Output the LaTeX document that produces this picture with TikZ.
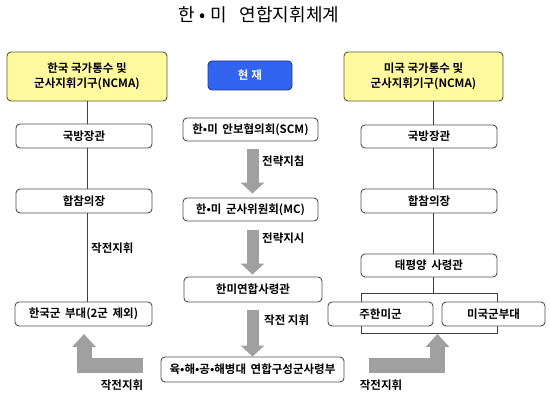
\documentclass[tikz,border=0pt]{standalone}
\usepackage{fontspec}
\setmainfont{Noto Sans CJK KR}[BoldFont={Noto Sans CJK KR Bold}]
\usetikzlibrary{arrows.meta,calc}
\definecolor{ylw}{HTML}{FFFA9E}
\definecolor{ylwline}{HTML}{5A5A3A}
\definecolor{blu}{HTML}{3264F0}
\definecolor{bluline}{HTML}{1F3A8A}
\definecolor{boxline}{HTML}{505050}
\definecolor{arrgray}{HTML}{A0A0A0}
\tikzset{
  base/.style={rounded corners=4pt, line width=0.9pt, inner sep=0pt, align=center,
    font=\fontsize{11.5}{14.5}\selectfont\bfseries},
  whitebox/.style={base, draw=boxline, fill=white},
  yellowbox/.style={base, draw=ylwline, fill=ylw, minimum width=160pt, minimum height=49pt},
  bluebox/.style={base, draw=bluline, fill=blu, text=white},
  conn/.style={draw=black!75, line width=0.8pt},
  lbl/.style={font=\fontsize{11.5}{13}\selectfont\bfseries, inner sep=0pt},
  fatarrow/.style={draw=arrgray, line width=12pt, line cap=butt,
    -{Triangle[width=23pt,length=11pt]}},
  bentarrow/.style={draw=arrgray, line width=15pt, line cap=butt, line join=miter,
    -{Triangle[width=23pt,length=13pt]}}
}
\begin{document}
\begin{tikzpicture}[x=1pt,y=-1pt]
\useasboundingbox (0,0) rectangle (550,404);
% title
\node[inner sep=0pt, font=\fontsize{18}{20}\selectfont] (title) at (259,15)
  {한\makebox[15pt]{•}미\hspace{13pt}연합지휘체계};
% top boxes
\node[yellowbox] (ky) at (87,76.5) {한국 국가통수 및\\군사지휘기구(NCMA)};
\node[bluebox, minimum width=84pt, minimum height=29pt] (now) at (250,75.5) {현\hspace{3pt}재};
\node[yellowbox, minimum width=159pt] (uy) at (423.5,76.5) {미국 국가통수 및\\군사지휘기구(NCMA)};
% left column
\node[whitebox, minimum width=136pt, minimum height=24pt] (kmnd) at (84,136) {국방장관};
\node[whitebox, minimum width=136pt, minimum height=24pt] (kjcs) at (84,201) {합참의장};
\node[whitebox, minimum width=137pt, minimum height=24pt] (kforce) at (83.5,314) {한국군\hspace{2pt} 부대(2군\hspace{2pt} 제외)};
% middle column
\node[whitebox, minimum width=135pt, minimum height=23pt] (scm) at (250.5,129.5) {한•미\hspace{2pt} 안보협의회(SCM)};
\node[whitebox, minimum width=135pt, minimum height=23pt] (mc) at (250.5,209.5) {한•미\hspace{2pt} 군사위원회(MC)};
\node[whitebox, minimum width=138pt, minimum height=25pt] (cfc) at (253,289.5) {한미연합사령관};
\node[whitebox, minimum width=183pt, minimum height=25pt] (comp) at (252.5,369.5) {육•해•공•해병대\hspace{2pt} 연합구성군사령부};
% right column
\node[whitebox, minimum width=136pt, minimum height=23pt] (umnd) at (429,136.5) {국방장관};
\node[whitebox, minimum width=136pt, minimum height=24pt] (ujcs) at (429,201) {합참의장};
\node[whitebox, minimum width=136pt, minimum height=23pt] (pac) at (429,265.5) {태평양\hspace{2pt} 사령관};
\coordinate (brtl) at (361,293);
\coordinate (brbr) at (497,333);
\draw[conn] (brtl) rectangle (brbr);
\node[whitebox, minimum width=105pt, minimum height=24pt] (usfk) at (380.5,314) {주한미군};
\node[whitebox, minimum width=103pt, minimum height=24pt] (usf) at (493.5,314) {미국군부대};
% vertical lines
\coordinate (lx) at (87,0);
\coordinate (rx) at (433,0);
\draw[conn] (ky.south -| lx) -- (kmnd.north -| lx);
\draw[conn] (kmnd.south -| lx) -- (kjcs.north -| lx);
\draw[conn] (kjcs.south -| lx) -- (kforce.north -| lx);
\draw[conn] (uy.south -| rx) -- (umnd.north -| rx);
\draw[conn] (umnd.south -| rx) -- (ujcs.north -| rx);
\draw[conn] (ujcs.south -| rx) -- (pac.north -| rx);
\draw[conn] (pac.south -| rx) -- (brtl -| rx);
% middle fat arrows
\coordinate (ax) at (252.5,0);
\draw[fatarrow] ($(scm.south -| ax)+(0,8)$) -- ($(mc.north -| ax)+(0,-4)$);
\draw[fatarrow] ($(mc.south -| ax)+(0,9)$) -- ($(cfc.north -| ax)+(0,-2)$);
\draw[fatarrow] ($(cfc.south -| ax)+(0,8)$) -- (comp.north -| ax);
% bent arrows
\coordinate (bl0) at (143,365.5);
\coordinate (bl1) at (84,334);
\draw[bentarrow] (bl0) -| (bl1);
\coordinate (br0) at (369,365.5);
\coordinate (br1) at (437.5,334);
\draw[bentarrow] (br0) -| (br1);
% labels
\node[lbl, anchor=west] (l1) at (262,161) {전략지침};
\node[lbl, anchor=west] (l2) at (262,238) {전략지시};
\node[lbl, anchor=west] (l3) at (264,320) {작전 지휘};
\node[lbl, anchor=west] (l4) at (91,248) {작전지휘};
\node[lbl] (l5) at (122,385) {작전지휘};
\node[lbl] (l6) at (381,385) {작전지휘};
\end{tikzpicture}
\end{document}
